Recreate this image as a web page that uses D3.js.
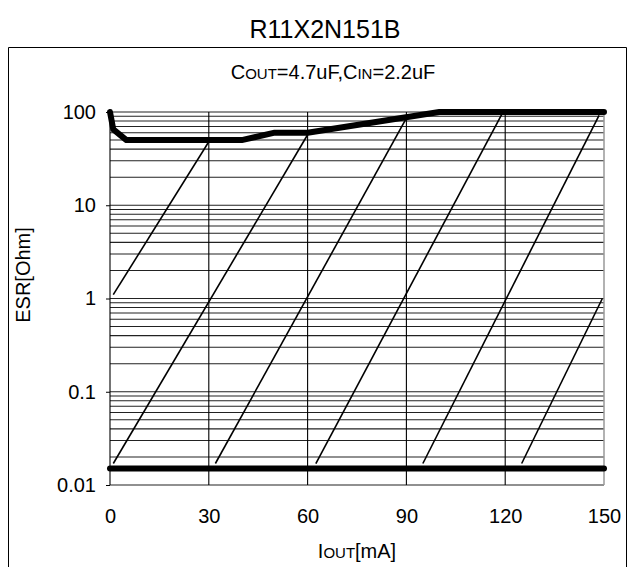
<!DOCTYPE html>
<html><head><meta charset="utf-8">
<script src="https://cdn.jsdelivr.net/npm/d3@7/dist/d3.min.js"></script>
<style>body{margin:0;background:#fff}text{font-family:"Liberation Sans",Arial,sans-serif;fill:#000}</style>
</head><body><svg id="c" width="633" height="567"></svg>
<script>
// Data
const xTicks = [0, 30, 60, 90, 120, 150];
const yTicks = [0.01, 0.1, 1, 10, 100];
const yTickLabels = ["0.01", "0.1", "1", "10", "100"];
// upper stability boundary (IOUT mA, ESR Ohm)
const upperX = [0, 1, 5, 40, 50, 60, 100, 150];
const upperY = [100, 65, 50, 50, 60, 60, 100, 100];
// lower stability boundary
const lowerX = [0, 150];
const lowerY = [0.015, 0.015];
// diagonal reference lines [x1, y1, x2, y2]
const diagX1 = [1, 1, 32, 62.5, 95, 125];
const diagY1 = [1.1, 0.017, 0.017, 0.017, 0.017, 0.017];
const diagX2 = [30, 60, 90, 119, 148.5, 149.5];
const diagY2 = [48, 57, 86, 95, 92, 1.0];

const svg = d3.select("#c");
const x = d3.scaleLinear().domain([0, 150]).range([110, 604]);
const y = d3.scaleLog().domain([0.01, 100]).range([485, 112]);

// outer frame
svg.append("path").attr("d", "M8.5,567 V47.5 H626.5 V567").attr("fill", "none").attr("stroke", "#000").attr("stroke-width", 1);

// title
svg.append("text").attr("x", 325).attr("y", 38).attr("text-anchor", "middle").attr("font-size", 25).text("R11X2N151B");
const sub = svg.append("text").attr("x", 333).attr("y", 79).attr("text-anchor", "middle").attr("font-size", 20);
sub.append("tspan").text("C");
sub.append("tspan").attr("font-size", 15).text("OUT");
sub.append("tspan").text("=4.7uF,C");
sub.append("tspan").attr("font-size", 15).text("IN");
sub.append("tspan").text("=2.2uF");

// minor horizontal grid
const minor = [];
for (let d = -2; d < 2; d++) for (let m = 1; m <= 9; m++) minor.push(m * Math.pow(10, d));
minor.push(100);
svg.append("g").selectAll("line").data(minor).join("line")
  .attr("x1", x(0)).attr("x2", x(150))
  .attr("y1", d => y(d)).attr("y2", d => y(d))
  .attr("stroke", "#222").attr("stroke-width", 1.1);

// vertical grid
svg.append("g").selectAll("line").data(xTicks).join("line")
  .attr("x1", d => x(d)).attr("x2", d => x(d))
  .attr("y1", y(100)).attr("y2", y(0.01))
  .attr("stroke", d => d === 150 ? "#999" : "#000").attr("stroke-width", d => d === 150 ? 1.5 : 1.1);

// axes
const yAxis = d3.axisLeft(y).tickValues(yTicks).tickFormat((d, i) => yTickLabels[i]).tickSize(4).tickPadding(10);
const gy = svg.append("g").attr("transform", `translate(${x(0)},0)`).call(yAxis);
gy.select(".domain").remove();
gy.selectAll("text").attr("font-size", 20).attr("font-family", "Liberation Sans, Arial, sans-serif").attr("fill", "#000");
const xAxis = d3.axisBottom(x).tickValues(xTicks).tickSize(0).tickPadding(24);
const gx = svg.append("g").attr("transform", `translate(0,${y(0.01)})`).call(xAxis);
gx.select(".domain").remove();
gx.selectAll("text").attr("font-size", 20).attr("font-family", "Liberation Sans, Arial, sans-serif").attr("fill", "#000");

// diagonal lines
const diag = diagX1.map((d, i) => [[d, diagY1[i]], [diagX2[i], diagY2[i]]]);
const line = d3.line().x(d => x(d[0])).y(d => y(d[1]));
svg.append("g").selectAll("path").data(diag).join("path")
  .attr("d", line).attr("fill", "none").attr("stroke", "#000").attr("stroke-width", 1.6);

// boundaries
svg.append("path").datum(upperX.map((d, i) => [d, upperY[i]])).attr("d", line)
  .attr("fill", "none").attr("stroke", "#000").attr("stroke-width", 6).attr("stroke-linecap", "round").attr("stroke-linejoin", "round");
svg.append("path").datum(lowerX.map((d, i) => [d, lowerY[i]])).attr("d", line)
  .attr("fill", "none").attr("stroke", "#000").attr("stroke-width", 6).attr("stroke-linecap", "round");

// axis titles
const xl = svg.append("text").attr("x", 357).attr("y", 558).attr("text-anchor", "middle").attr("font-size", 20);
xl.append("tspan").text("I");
xl.append("tspan").attr("font-size", 15).text("OUT");
xl.append("tspan").text("[mA]");
svg.append("text").attr("transform", "translate(30,275) rotate(-90)").attr("text-anchor", "middle").attr("font-size", 20).text("ESR[Ohm]");
</script></body></html>
